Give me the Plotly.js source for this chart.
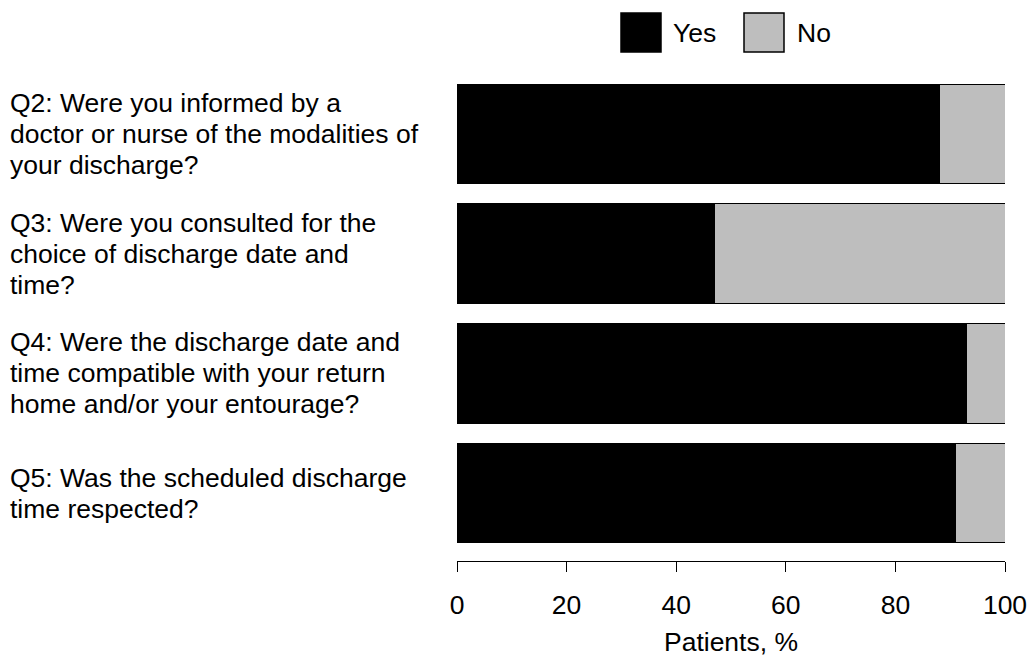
<!DOCTYPE html>
<html>
<head>
<meta charset="utf-8">
<script src="https://cdn.plot.ly/plotly-3.0.1.min.js"></script>
<style>html,body{margin:0;padding:0;background:#fff;}#chart{width:1032px;height:657px;}</style>
</head>
<body>
<div id="chart"></div>
<script>
const categories = ["Q2", "Q3", "Q4", "Q5"];
const questionLabels = [
  ["Q2: Were you informed by a", "doctor or nurse of the modalities of", "your discharge?"],
  ["Q3: Were you consulted for the", "choice of discharge date and", "time?"],
  ["Q4: Were the discharge date and", "time compatible with your return", "home and/or your entourage?"],
  ["Q5: Was the scheduled discharge", "time respected?"]
];
const yesValues = [88, 47, 93, 91];
const noValues = [12, 53, 7, 9];
const seriesNames = ["Yes", "No"];
const tickValues = [0, 20, 40, 60, 80, 100];

const FONT = "Liberation Sans, Arial, sans-serif";
const FS = 26.5;
const LINE = 31;
const W = 548, H = 487, L = 457, T = 74;
const px = x => (x - L) / W;
const py = y => (T + H - y) / H;

const traces = [
  {type: "bar", orientation: "h", name: seriesNames[0], y: categories, x: yesValues,
   marker: {color: "#000000", line: {color: "#000000", width: 1}}, hoverinfo: "x+name"},
  {type: "bar", orientation: "h", name: seriesNames[1], y: categories, x: noValues,
   marker: {color: "#bebebe", line: {color: "#000000", width: 1}}, hoverinfo: "x+name"}
];

const annotations = [];
categories.forEach((c, i) => {
  const lines = questionLabels[i];
  const n = lines.length;
  lines.forEach((ln, k) => {
    annotations.push({
      xref: "paper", yref: "y", x: px(9), y: c, xanchor: "left", yanchor: "middle",
      yshift: ((n - 1) / 2 - k) * LINE,
      align: "left", text: ln, showarrow: false, borderpad: 0,
      font: {family: FONT, size: FS, color: "#000"}
    });
  });
});
annotations.push(
  {xref: "paper", yref: "paper", x: px(672), y: py(33), xanchor: "left", yanchor: "middle",
   text: seriesNames[0], showarrow: false, borderpad: 0, font: {family: FONT, size: FS, color: "#000"}},
  {xref: "paper", yref: "paper", x: px(796), y: py(33), xanchor: "left", yanchor: "middle",
   text: seriesNames[1], showarrow: false, borderpad: 0, font: {family: FONT, size: FS, color: "#000"}}
);

const shapes = [
  {type: "rect", xref: "paper", yref: "paper", x0: px(621), x1: px(661), y0: py(52), y1: py(13),
   fillcolor: "#000000", line: {color: "#000", width: 1.5}},
  {type: "rect", xref: "paper", yref: "paper", x0: px(744), x1: px(784), y0: py(52), y1: py(13),
   fillcolor: "#bebebe", line: {color: "#000", width: 1.5}}
];

const layout = {
  width: 1032, height: 657,
  margin: {l: L, r: 1032 - L - W, t: T, b: 657 - T - H, pad: 0},
  paper_bgcolor: "#fff", plot_bgcolor: "#fff",
  barmode: "stack", bargap: 0.167,
  showlegend: false,
  font: {family: FONT, size: FS, color: "#000"},
  xaxis: {
    range: [0, 100], tickvals: tickValues, ticktext: tickValues.map(String),
    showgrid: false, zeroline: false, showline: true, linecolor: "#000", linewidth: 1,
    ticks: "outside", ticklen: 10, tickwidth: 1, tickcolor: "#000",
    tickfont: {family: FONT, size: FS, color: "#000"},
    ticklabelstandoff: 10,
    title: {text: "Patients, %", font: {family: FONT, size: FS, color: "#000"}, standoff: 16},
    fixedrange: true
  },
  yaxis: {
    type: "category", categoryorder: "array", categoryarray: categories,
    range: [3.567, -0.5], showticklabels: false, showgrid: false, zeroline: false,
    showline: false, ticks: "", fixedrange: true
  },
  annotations: annotations,
  shapes: shapes
};

Plotly.newPlot("chart", traces, layout, {displayModeBar: false, staticPlot: true});
</script>
</body>
</html>
